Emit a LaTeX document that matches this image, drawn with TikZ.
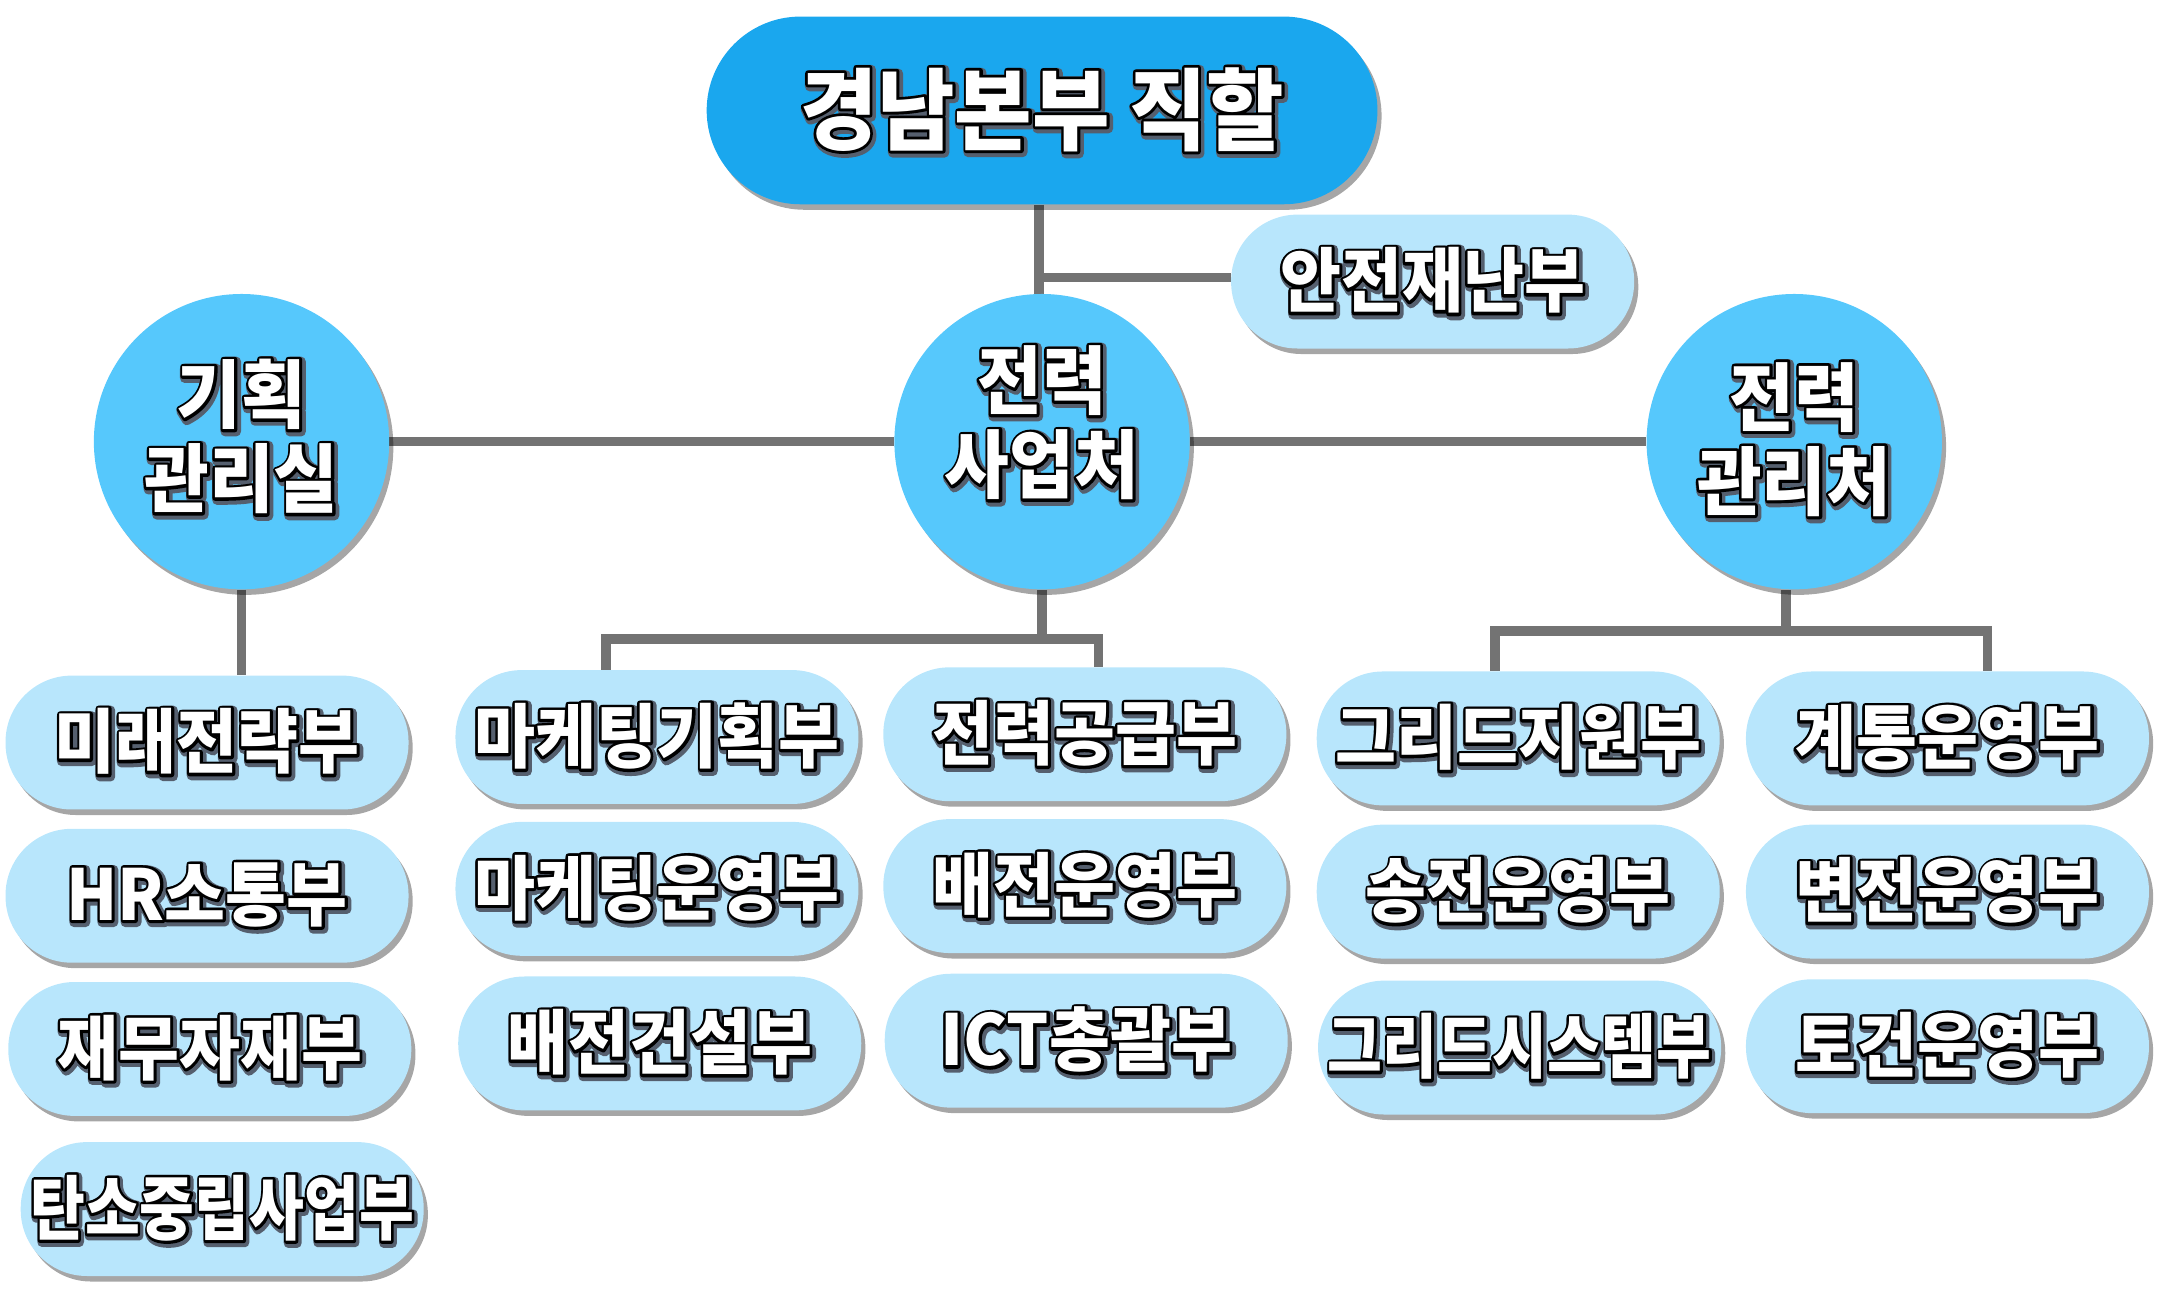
\documentclass[tikz,border=0pt]{standalone}
\usepackage{fontspec}
\usepackage{graphicx}
\newfontfamily\krfont{Noto Sans CJK KR}
\usetikzlibrary{shadows}
\definecolor{titleblue}{RGB}{26,167,238}
\definecolor{circblue}{RGB}{86,200,252}
\definecolor{boxblue}{RGB}{184,230,252}
\definecolor{linegray}{RGB}{115,115,115}
\definecolor{txtshadow}{RGB}{85,95,110}
\newcommand\otxt[1]{%
  \setbox0=\hbox{#1}%
  \leavevmode
  \rlap{\kern1.2pt\lower1.3pt\hbox{\color{txtshadow}\special{pdf:literal direct 2 Tr 6.6 w 1 j}\copy0\special{pdf:literal direct 0 Tr 1 w 0 j}}}%
  \rlap{\hbox{\color{black}\special{pdf:literal direct 2 Tr 3.8 w 1 j}\copy0\special{pdf:literal direct 0 Tr 1 w 0 j}}}%
  \hbox{\color{white}\copy0}}
\newcommand\lab[2][1]{\scalebox{#1}[1.06]{\otxt{#2}}}
\pgfdeclarelayer{bg}
\pgfsetlayers{bg,main}
\begin{document}
\begin{tikzpicture}[x=1pt,y=-1pt,
  conn/.style={draw=linegray,line width=7pt,line join=miter},
  shad/.style={drop shadow={shadow xshift=3pt,shadow yshift=-4pt,opacity=0.35,fill=black}},
  pill/.style={shape=rectangle,rounded corners=48pt,minimum width=292pt,minimum height=97pt,
    fill=boxblue,shad,inner sep=0pt,font=\krfont\bfseries\fontsize{48}{52}\selectfont},
  topbox/.style={shape=rectangle,rounded corners=68pt,minimum width=486pt,minimum height=136pt,
    fill=titleblue,shad,inner sep=0pt,font=\krfont\bfseries\fontsize{61}{66}\selectfont},
  circ/.style={circle,minimum size=214pt,fill=circblue,shad,inner sep=0pt},
  ctext/.style={align=center,inner sep=0pt,font=\krfont\bfseries\fontsize{51}{61}\selectfont}
]
\useasboundingbox (0,0) rectangle (1565,942);

% top
\node[topbox] (title) at (755,80) {\lab{경남본부 직할}};
\node[pill] (safety) at (1038,204) {\lab{안전재난부}};

% circles
\node[circ] (c1) at (175,320) {};
\node[circ] (c2) at (755,320) {};
\node[circ] (c3) at (1300,320) {};
\node[ctext] (c1t) at ([yshift=3pt]c1.center) {\lab{기획}\\\lab{관리실}};
\node[ctext] (c2t) at ([yshift=13pt]c2.center) {\lab{전력}\\\lab{사업처}};
\node[ctext] (c3t) at ([yshift=1pt]c3.center) {\lab{전력}\\\lab{관리처}};

% column 1
\node[pill] (b11) at (150,538) {\lab{미래전략부}};
\node[pill] (b12) at (150,649) {\lab{HR소통부}};
\node[pill] (b13) at (152,760) {\lab{재무자재부}};
\node[pill] (b14) at (161,876) {\lab[0.9]{탄소중립사업부}};
% column 2
\node[pill] (b21) at (476,534) {\lab{마케팅기획부}};
\node[pill] (b22) at (476,644) {\lab{마케팅운영부}};
\node[pill] (b23) at (478,756) {\lab{배전건설부}};
% column 3
\node[pill] (b31) at (786,532) {\lab{전력공급부}};
\node[pill] (b32) at (786,642) {\lab{배전운영부}};
\node[pill] (b33) at (787,754) {\lab{ICT총괄부}};
% column 4
\node[pill] (b41) at (1100,535) {\lab{그리드지원부}};
\node[pill] (b42) at (1100,646) {\lab{송전운영부}};
\node[pill] (b43) at (1101,759) {\lab[0.9]{그리드시스템부}};
% column 5
\node[pill] (b51) at (1411,535) {\lab{계통운영부}};
\node[pill] (b52) at (1411,646) {\lab{변전운영부}};
\node[pill] (b53) at (1411,758) {\lab{토건운영부}};

\coordinate (j2) at (755,463);
\coordinate (j3) at (1294,457);

\begin{pgfonlayer}{bg}
\draw[conn] ([xshift=-2pt]title.south) -- ([xshift=-2pt]c2.north);
\draw[conn] ([xshift=-2pt]title.south |- 0,201) -- (safety.west |- 0,201);
\draw[conn] (c1.east) -- (c2.west);
\draw[conn] (c2.east) -- (c3.west);
\draw[conn] (c1.south) -- (c1.south |- b11.north);
\draw[conn] (c2.south) -- (j2);
\draw[conn] ([xshift=-37pt]b21.north) |- (j2) -| ([xshift=10pt]b31.north);
\draw[conn] (c3.south -| j3) -- (j3);
\draw[conn] ([xshift=-17pt]b41.north) |- (j3) -| ([xshift=29pt]b51.north);
\end{pgfonlayer}
\end{tikzpicture}
\end{document}
